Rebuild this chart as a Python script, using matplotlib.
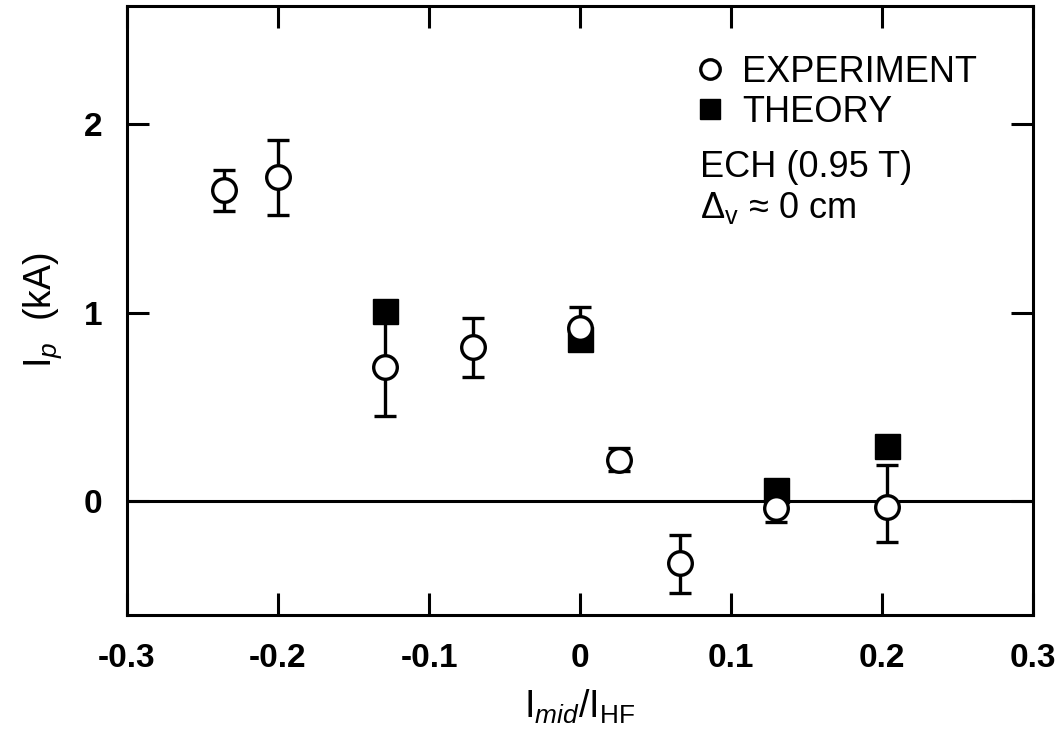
import numpy as np
import matplotlib
matplotlib.use("Agg")
import matplotlib.pyplot as plt
from matplotlib.lines import Line2D

plt.rcParams['font.family'] = ['Liberation Sans', 'DejaVu Sans']
plt.rcParams['mathtext.fontset'] = 'custom'
plt.rcParams['mathtext.rm'] = 'Liberation Sans'
plt.rcParams['mathtext.it'] = 'Liberation Sans:italic'

# experiment points (I_mid/I_HF, Ip in kA) with asymmetric error bars
exp_x = [-0.236, -0.200, -0.129, -0.071, 0.000, 0.026, 0.066, 0.130, 0.203]
exp_y = [1.65, 1.72, 0.71, 0.82, 0.92, 0.22, -0.33, -0.04, -0.03]
exp_lo = [0.11, 0.20, 0.26, 0.16, 0.06, 0.06, 0.16, 0.07, 0.19]
exp_hi = [0.11, 0.20, 0.26, 0.15, 0.11, 0.06, 0.15, 0.05, 0.22]

# theory points
th_x = [-0.129, 0.000, 0.130, 0.203]
th_y = [1.01, 0.86, 0.06, 0.29]

xticks = [-0.3, -0.2, -0.1, 0, 0.1, 0.2, 0.3]
xticklabels = ['-0.3', '-0.2', '-0.1', '0', '0.1', '0.2', '0.3']
yticks = [0, 1, 2]

fig = plt.figure(figsize=(10.61, 7.33), dpi=100)
ax = fig.add_axes([0.1197, 0.161, 0.854, 0.831])

ax.axhline(0, color='black', lw=2.2, zorder=1)

ax.errorbar(exp_x, exp_y, yerr=[exp_lo, exp_hi], fmt='none', ecolor='black',
            elinewidth=2.4, capsize=8, capthick=2.4, zorder=2)
ax.plot(th_x, th_y, 's', color='black', markersize=18, zorder=3)
ax.plot(exp_x, exp_y, 'o', markerfacecolor='white', markeredgecolor='black',
        markeredgewidth=2.4, markersize=17, zorder=4)

ax.set_xlim(-0.3, 0.3)
ax.set_ylim(-0.606, 2.63)
ax.set_xticks(xticks)
ax.set_xticklabels(xticklabels)
ax.set_yticks(yticks)

ax.tick_params(direction='in', length=16, width=2.2, top=True, right=True,
               labelsize=24)
ax.tick_params(axis='x', pad=20)
ax.tick_params(axis='y', pad=18)
for lab in ax.get_xticklabels() + ax.get_yticklabels():
    lab.set_fontweight('bold')
for sp in ax.spines.values():
    sp.set_linewidth(2.2)

ax.set_xlabel(r'$\mathregular{I_{\it mid}/I_{HF}}$', fontsize=27, labelpad=10)
ax.set_ylabel(r'$\mathregular{I_{\it p}}$  (kA)', fontsize=27, labelpad=14)

handles = [
    Line2D([], [], ls='none', marker='o', markerfacecolor='white',
           markeredgecolor='black', markeredgewidth=2.4, markersize=14),
    Line2D([], [], ls='none', marker='s', color='black', markersize=15),
]
ax.legend(handles, ['EXPERIMENT', 'THEORY'], loc='upper left',
          bbox_to_anchor=(0.627, 0.92), frameon=False, fontsize=26,
          handlelength=0.8, handletextpad=0.5, labelspacing=0.15,
          borderaxespad=0, borderpad=0)

ax.text(0.632, 0.719, 'ECH (0.95 T)', transform=ax.transAxes, fontsize=26,
        va='baseline')
ax.text(0.632, 0.652, r'Δ$_\mathregular{v}$ ≈ 0 cm', transform=ax.transAxes,
        fontsize=26, va='baseline')

fig.savefig('out.png', dpi=100)
